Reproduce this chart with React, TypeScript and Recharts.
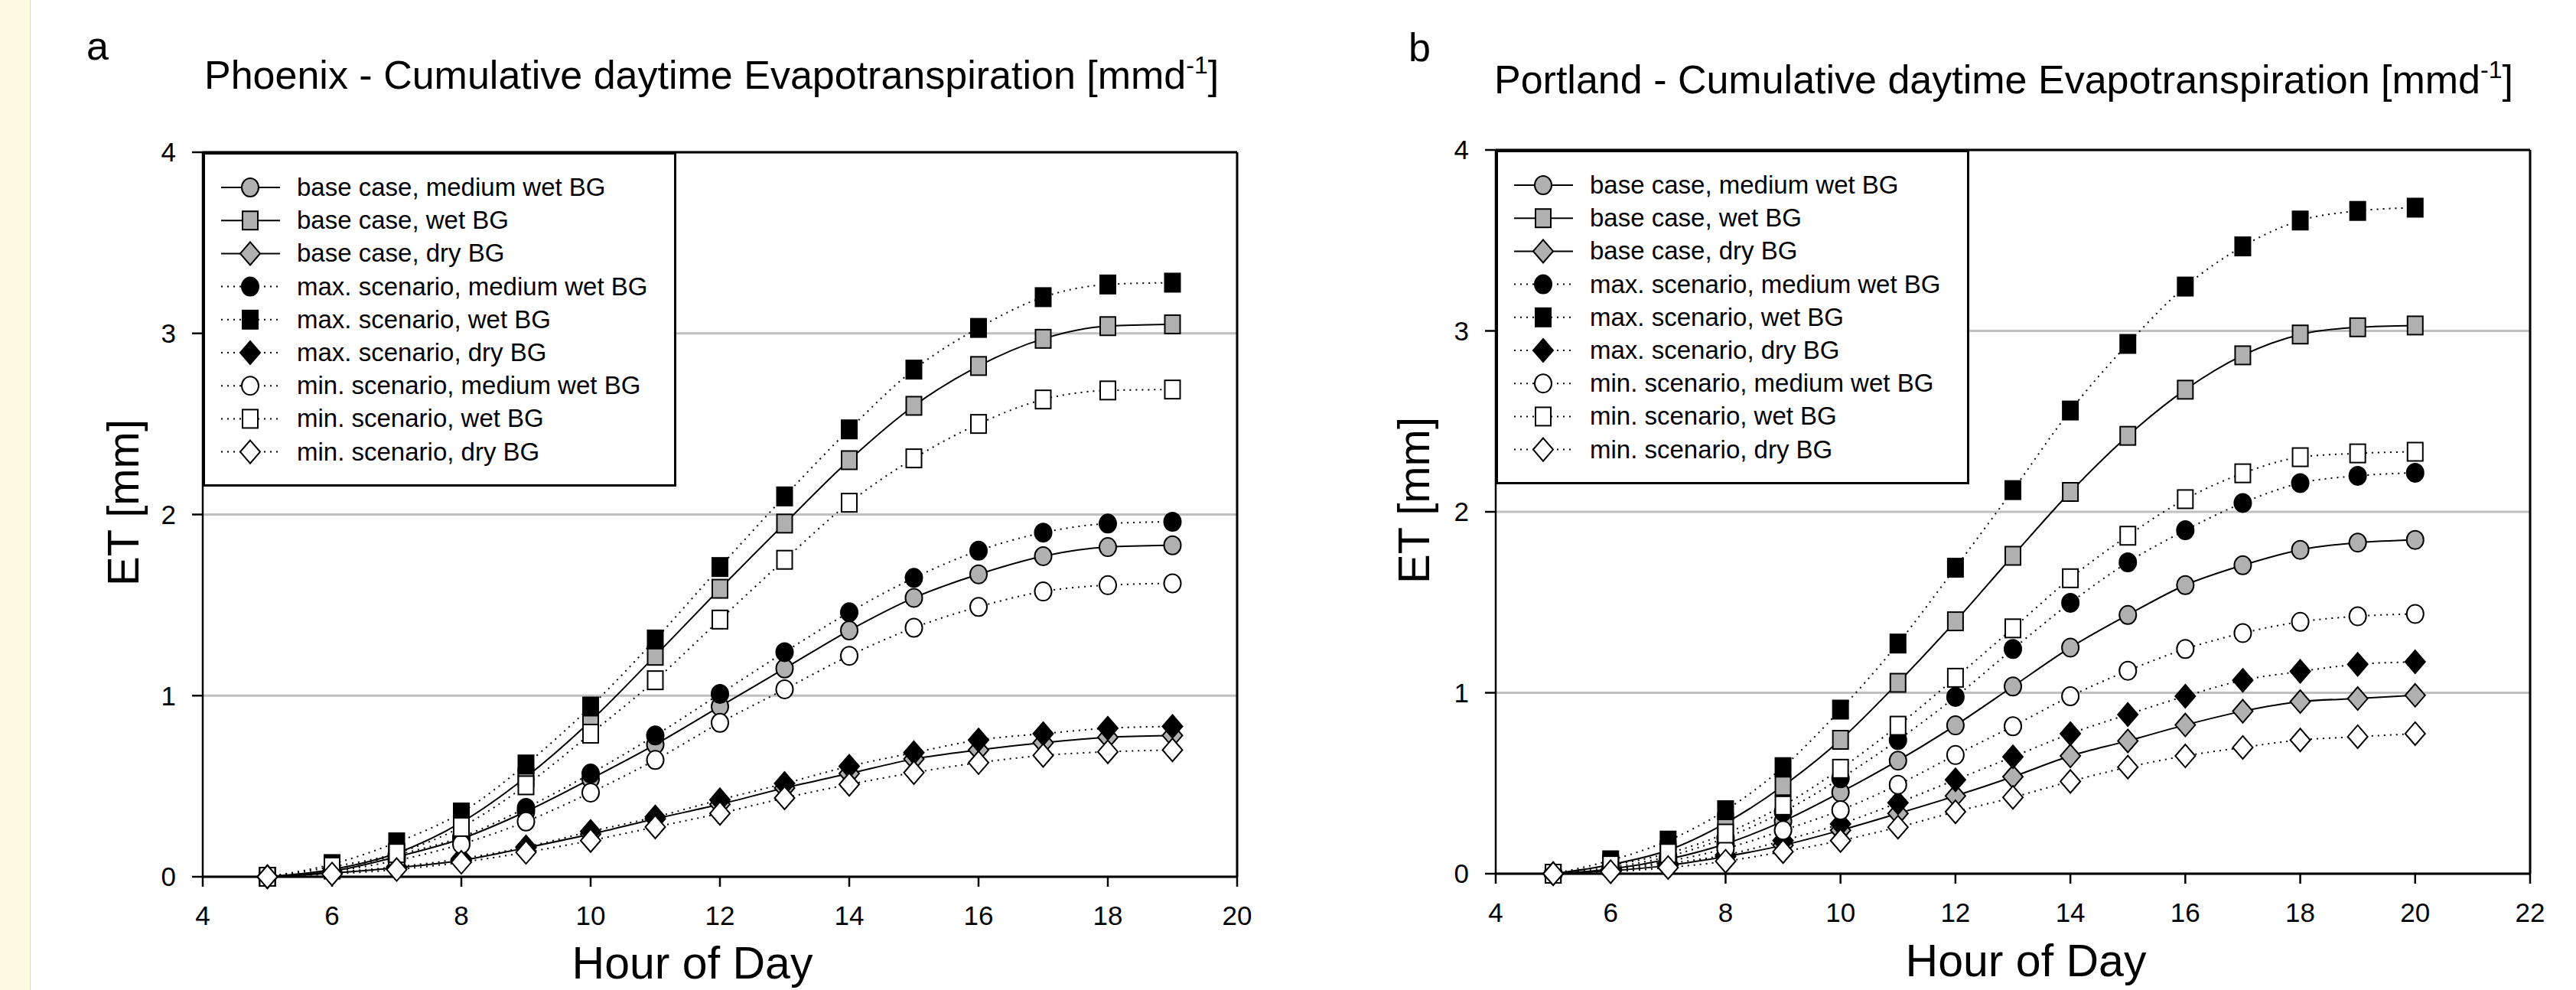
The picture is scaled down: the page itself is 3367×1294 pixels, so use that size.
import React from "react";
import {
  LineChart,
  Line,
  XAxis,
  YAxis,
  CartesianGrid,
  ReferenceLine,
  Legend,
} from "recharts";

document.body.style.margin = "0";

const FONT = "'Liberation Sans', Arial, Helvetica, sans-serif";
const GRAY = "#b0b0b0";

// Phoenix, hours 5..19
const HOURS_PHOENIX = [5, 6, 7, 8, 9, 10, 11, 12, 13, 14, 15, 16, 17, 18, 19];
const baseMedPhx = [0, 0.03, 0.11, 0.21, 0.36, 0.54, 0.73, 0.94, 1.15, 1.36, 1.54, 1.67, 1.77, 1.82, 1.83];
const baseWetPhx = [0, 0.04, 0.13, 0.3, 0.55, 0.86, 1.22, 1.59, 1.95, 2.3, 2.6, 2.82, 2.97, 3.04, 3.05];
const baseDryPhx = [0, 0.02, 0.05, 0.09, 0.16, 0.235, 0.32, 0.4, 0.49, 0.57, 0.65, 0.7, 0.74, 0.77, 0.78];
const maxMedPhx = [0, 0.04, 0.12, 0.22, 0.38, 0.57, 0.78, 1.01, 1.24, 1.46, 1.65, 1.8, 1.9, 1.95, 1.96];
const maxWetPhx = [0, 0.07, 0.19, 0.355, 0.62, 0.94, 1.31, 1.71, 2.1, 2.47, 2.8, 3.03, 3.2, 3.27, 3.28];
const maxDryPhx = [0, 0.025, 0.055, 0.1, 0.165, 0.25, 0.33, 0.425, 0.515, 0.61, 0.685, 0.755, 0.79, 0.82, 0.83];
const minMedPhx = [0, 0.03, 0.09, 0.18, 0.305, 0.465, 0.645, 0.85, 1.035, 1.22, 1.375, 1.49, 1.575, 1.61, 1.62];
const minWetPhx = [0, 0.055, 0.13, 0.275, 0.505, 0.79, 1.085, 1.42, 1.75, 2.065, 2.31, 2.5, 2.635, 2.685, 2.69];
const minDryPhx = [0, 0.015, 0.04, 0.08, 0.135, 0.2, 0.275, 0.35, 0.435, 0.51, 0.575, 0.63, 0.67, 0.69, 0.7];

// Portland, hours 5..20
const HOURS_PORTLAND = [5, 6, 7, 8, 9, 10, 11, 12, 13, 14, 15, 16, 17, 18, 19, 20];
const baseMedPdx = [0, 0.025, 0.08, 0.165, 0.29, 0.45, 0.625, 0.82, 1.035, 1.25, 1.43, 1.595, 1.705, 1.79, 1.83, 1.845];
const baseWetPdx = [0, 0.05, 0.13, 0.28, 0.485, 0.74, 1.055, 1.395, 1.757, 2.11, 2.42, 2.675, 2.865, 2.98, 3.02, 3.03];
const baseDryPdx = [0, 0.016, 0.046, 0.095, 0.157, 0.24, 0.333, 0.43, 0.536, 0.651, 0.734, 0.822, 0.898, 0.951, 0.968, 0.986];
const maxMedPdx = [0, 0.034, 0.095, 0.198, 0.342, 0.527, 0.739, 0.977, 1.242, 1.497, 1.721, 1.898, 2.049, 2.159, 2.199, 2.216];
const maxWetPdx = [0, 0.074, 0.183, 0.351, 0.589, 0.907, 1.272, 1.691, 2.12, 2.56, 2.928, 3.245, 3.467, 3.61, 3.663, 3.681];
const maxDryPdx = [0, 0.021, 0.056, 0.104, 0.183, 0.275, 0.392, 0.519, 0.646, 0.774, 0.88, 0.981, 1.069, 1.118, 1.157, 1.171];
const minMedPdx = [0, 0.025, 0.069, 0.139, 0.24, 0.351, 0.492, 0.656, 0.815, 0.981, 1.122, 1.242, 1.33, 1.392, 1.423, 1.436];
const minWetPdx = [0, 0.046, 0.113, 0.222, 0.377, 0.58, 0.818, 1.083, 1.356, 1.633, 1.868, 2.07, 2.213, 2.302, 2.323, 2.332];
const minDryPdx = [0, 0.011, 0.034, 0.069, 0.122, 0.183, 0.257, 0.342, 0.422, 0.51, 0.589, 0.651, 0.698, 0.739, 0.757, 0.774];

const Y_TICKS = [0, 1, 2, 3, 4];
const X_TICKS_PHOENIX = [4, 6, 8, 10, 12, 14, 16, 18, 20];
const X_TICKS_PORTLAND = [4, 6, 8, 10, 12, 14, 16, 18, 20, 22];

type Shape = "circle" | "square" | "diamond";
type Series = { key: string; name: string; shape: Shape; fill: string; dotted: boolean };

const SERIES: Series[] = [
  { key: "baseMed", name: "base case, medium wet BG", shape: "circle", fill: GRAY, dotted: false },
  { key: "baseWet", name: "base case, wet BG", shape: "square", fill: GRAY, dotted: false },
  { key: "baseDry", name: "base case, dry BG", shape: "diamond", fill: GRAY, dotted: false },
  { key: "maxMed", name: "max. scenario, medium wet BG", shape: "circle", fill: "#000", dotted: true },
  { key: "maxWet", name: "max. scenario, wet BG", shape: "square", fill: "#000", dotted: true },
  { key: "maxDry", name: "max. scenario, dry BG", shape: "diamond", fill: "#000", dotted: true },
  { key: "minMed", name: "min. scenario, medium wet BG", shape: "circle", fill: "#fff", dotted: true },
  { key: "minWet", name: "min. scenario, wet BG", shape: "square", fill: "#fff", dotted: true },
  { key: "minDry", name: "min. scenario, dry BG", shape: "diamond", fill: "#fff", dotted: true },
];

function buildRows(hours: number[], values: Record<string, number[]>) {
  return hours.map((hour, i) => {
    const row: Record<string, number> = { hour };
    for (const k of Object.keys(values)) row[k] = values[k][i];
    return row;
  });
}

const phoenixRows = buildRows(HOURS_PHOENIX, {
  baseMed: baseMedPhx, baseWet: baseWetPhx, baseDry: baseDryPhx,
  maxMed: maxMedPhx, maxWet: maxWetPhx, maxDry: maxDryPhx,
  minMed: minMedPhx, minWet: minWetPhx, minDry: minDryPhx,
});

const portlandRows = buildRows(HOURS_PORTLAND, {
  baseMed: baseMedPdx, baseWet: baseWetPdx, baseDry: baseDryPdx,
  maxMed: maxMedPdx, maxWet: maxWetPdx, maxDry: maxDryPdx,
  minMed: minMedPdx, minWet: minWetPdx, minDry: minDryPdx,
});

function Marker({ cx, cy, shape, fill }: { cx?: number; cy?: number; shape: Shape; fill: string }) {
  if (cx == null || cy == null) return null;
  const common = { fill, stroke: "#000", strokeWidth: 2 };
  if (shape === "circle") return <ellipse cx={cx} cy={cy} rx={11} ry={12} {...common} />;
  if (shape === "square") return <rect x={cx - 10} y={cy - 12} width={20} height={24} {...common} />;
  return (
    <polygon
      points={`${cx},${cy - 15} ${cx + 13},${cy} ${cx},${cy + 15} ${cx - 13},${cy}`}
      {...common}
    />
  );
}

function LegendBox() {
  return (
    <svg width={619} height={437} style={{ display: "block" }}>
      <rect x={1.5} y={1.5} width={616} height={434} fill="#fff" stroke="#000" strokeWidth={3} />
      {SERIES.map((s, i) => {
        const y = 46 + i * 43.2;
        return (
          <g key={s.key}>
            <line
              x1={24}
              x2={101}
              y1={y}
              y2={y}
              stroke="#000"
              strokeWidth={2}
              strokeDasharray={s.dotted ? "2 6" : undefined}
            />
            <Marker cx={62} cy={y} shape={s.shape} fill={s.fill} />
            <text x={123} y={y + 11} fontSize={33} fontFamily={FONT} fill="#000">
              {s.name}
            </text>
          </g>
        );
      })}
    </svg>
  );
}

type PanelProps = {
  rows: Record<string, number>[];
  xMax: number;
  xTicks: number[];
  width: number;
  margin: { top: number; right: number; bottom: number; left: number };
  legendLeft: number;
  legendTop: number;
};

function Panel({ rows, xMax, xTicks, width, margin, legendLeft, legendTop }: PanelProps) {
  return (
    <LineChart width={width} height={1294} data={rows} margin={margin}>
      <CartesianGrid vertical={false} stroke="#c0c0c0" strokeWidth={3} />
      <XAxis
        dataKey="hour"
        type="number"
        domain={[4, xMax]}
        ticks={xTicks}
        height={30}
        tickSize={13}
        tickMargin={25}
        axisLine={{ stroke: "#000", strokeWidth: 3 }}
        tickLine={{ stroke: "#000", strokeWidth: 2.5 }}
        tick={{ fill: "#000", fontSize: 35, fontFamily: FONT }}
      />
      <YAxis
        type="number"
        domain={[0, 4]}
        ticks={Y_TICKS}
        width={60}
        tickSize={14}
        tickMargin={21}
        axisLine={{ stroke: "#000", strokeWidth: 2.5 }}
        tickLine={{ stroke: "#000", strokeWidth: 2.5 }}
        tick={{ fill: "#000", fontSize: 35, fontFamily: FONT }}
      />
      <ReferenceLine y={4} stroke="#000" strokeWidth={3} />
      <ReferenceLine x={xMax} stroke="#000" strokeWidth={3} />
      {SERIES.map((s) => (
        <Line
          key={s.key}
          dataKey={s.key}
          name={s.name}
          type="monotone"
          stroke="#000"
          strokeWidth={2}
          strokeDasharray={s.dotted ? "2 6" : undefined}
          dot={(p: any) => (
            <Marker key={`${s.key}-${p.index}`} cx={p.cx} cy={p.cy} shape={s.shape} fill={s.fill} />
          )}
          activeDot={false}
          isAnimationActive={false}
        />
      ))}
      <Legend
        layout="vertical"
        align="center"
        verticalAlign="middle"
        content={() => <LegendBox />}
        wrapperStyle={{ left: legendLeft, top: legendTop, width: 619, height: 437 }}
      />
    </LineChart>
  );
}

export default function App() {
  return (
    <div style={{ position: "relative", width: 3367, height: 1294, background: "#fff", overflow: "hidden" }}>
      <div
        style={{
          position: "absolute",
          left: 0,
          top: 0,
          width: 39,
          height: 1294,
          background: "#fffbe0",
          borderRight: "1px solid #d8d8d0",
        }}
      />
      <div style={{ position: "absolute", left: 0, top: 0 }}>
        <Panel
          rows={phoenixRows}
          xMax={20}
          xTicks={X_TICKS_PHOENIX}
          width={1700}
          margin={{ top: 199, right: 83, bottom: 118, left: 205 }}
          legendLeft={265}
          legendTop={199}
        />
      </div>
      <div style={{ position: "absolute", left: 1700, top: 0 }}>
        <Panel
          rows={portlandRows}
          xMax={22}
          xTicks={X_TICKS_PORTLAND}
          width={1667}
          margin={{ top: 196, right: 60, bottom: 122, left: 195 }}
          legendLeft={255}
          legendTop={196}
        />
      </div>
      <svg
        width={3367}
        height={1294}
        style={{ position: "absolute", left: 0, top: 0, pointerEvents: "none" }}
        fontFamily={FONT}
        fill="#000"
      >
        <text x={113} y={78} fontSize={52}>a</text>
        <text x={267} y={116} fontSize={52}>
          Phoenix - Cumulative daytime Evapotranspiration [mmd
          <tspan dy={-20} fontSize={32}>-1</tspan>
          <tspan dy={20}>]</tspan>
        </text>
        <text x={1841} y={80} fontSize={52}>b</text>
        <text x={1953} y={122} fontSize={52}>
          Portland - Cumulative daytime Evapotranspiration [mmd
          <tspan dy={-20} fontSize={32}>-1</tspan>
          <tspan dy={20}>]</tspan>
        </text>
        <text x={181} y={657} fontSize={58} textAnchor="middle" transform="rotate(-90 181 657)">
          ET [mm]
        </text>
        <text x={1868} y={654} fontSize={58} textAnchor="middle" transform="rotate(-90 1868 654)">
          ET [mm]
        </text>
        <text x={905} y={1279} fontSize={59} textAnchor="middle">Hour of Day</text>
        <text x={2648} y={1276} fontSize={59} textAnchor="middle">Hour of Day</text>
      </svg>
    </div>
  );
}
